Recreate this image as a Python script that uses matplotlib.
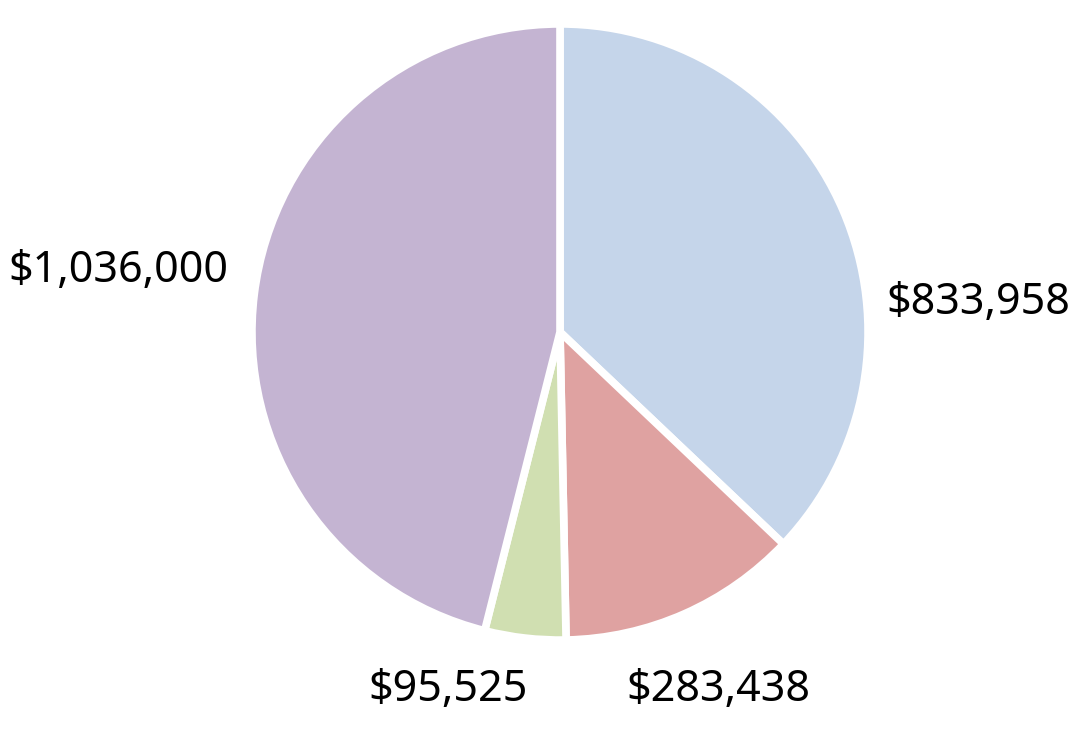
import matplotlib.pyplot as plt

# slice values, clockwise from 12 o'clock
values = [833958, 283438, 95525, 1036000]
labels = ['$833,958', '$283,438', '$95,525', '$1,036,000']
colors = ['#c5d5ea', '#dfa2a1', '#d0dfb1', '#c4b4d2']
# label centers in units of pie radius
label_pos = [(1.37, 0.095), (0.518, -1.174), (-0.367, -1.174), (-1.449, 0.20)]

plt.rcParams['font.family'] = ['Noto Sans', 'DejaVu Sans']

fig = plt.figure(figsize=(10.8, 7.39), dpi=100)
ax = fig.add_axes([255 / 1080, 102 / 739, 610 / 1080, 610 / 739])

wedges, _ = ax.pie(values, colors=colors, startangle=90, counterclock=False,
                   radius=1.01, wedgeprops=dict(edgecolor='white', linewidth=5.5))

for text, (x, y) in zip(labels, label_pos):
    ax.text(x, y, text, ha='center', va='center', fontsize=31,
            fontweight='medium', color='black')

ax.set_xlim(-1, 1)
ax.set_ylim(-1, 1)
ax.set_aspect('equal')
ax.axis('off')

fig.savefig('out.png', dpi=100)
